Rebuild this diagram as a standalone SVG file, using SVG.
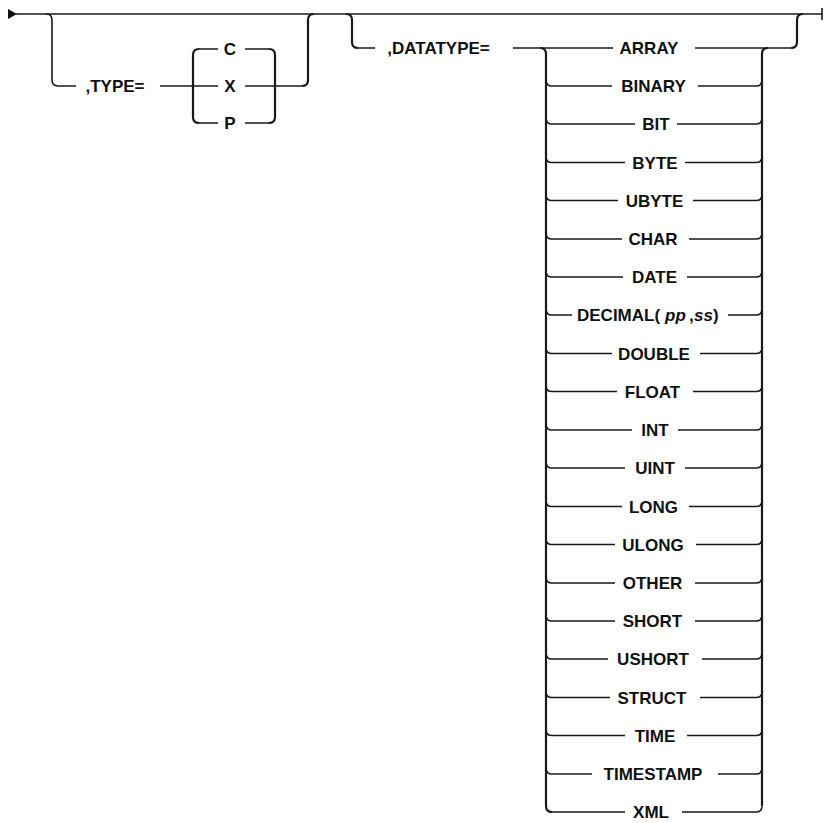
<svg xmlns="http://www.w3.org/2000/svg" width="825" height="823" viewBox="0 0 825 823">
<style>
.ln{fill:none;stroke:#1a1a1a;stroke-width:1.6;stroke-linecap:butt}
.br{fill:none;stroke:#1a1a1a;stroke-width:2.2}
text{font-family:"Liberation Sans",Arial,sans-serif;font-size:17px;font-weight:bold;fill:#111;text-anchor:middle}
.it{font-style:italic}
</style>
<rect width="825" height="823" fill="#fff"/>
<g id="connectors">
<polygon points="8,9 17,14 8,19" fill="#111"/>
<path class="ln" d="M16 14 H822 M822 8 V20"/>
<!-- TYPE branch -->
<path class="ln" d="M46 14 Q52 14 52 20 V80 Q52 86 58 86 H76"/>
<path class="ln" d="M160 86 H218 M199 49 H218 M199 123 H218"/>
<path class="br" d="M199 49 Q193 49 193 55 V117 Q193 123 199 123"/>
<path class="ln" d="M245 49 H269 M245 123 H269 M245 86 H302"/>
<path class="br" d="M269 49 Q275 49 275 55 V117 Q275 123 269 123"/>
<path class="br" d="M302 86 Q308 86 308 80 V20 Q308 14 314 14"/>
<!-- DATATYPE branch -->
<path class="br" d="M346 14 Q352 14 352 20 V42 Q352 48 358 48"/>
<path class="ln" d="M358 48 H375 M513 48 H613"/>
<path class="br" d="M540 48 Q546 48 546 54 V806 Q546 812 552 812"/>
<path class="br" d="M762 806 V54 Q762 48 768 48"/>
<path class="ln" d="M695 48 H791"/>
<path class="br" d="M791 48 Q797 48 797 42 V20 Q797 14 803 14"/>
<path class="ln" d="
M546 80.2 Q546 86 552 86 H612 M698 86 H756 Q762 86 762 80.2
M546 118.2 Q546 124 552 124 H635 M677 124 H756 Q762 124 762 118.2
M546 156.7 Q546 162.5 552 162.5 H625 M685 162.5 H756 Q762 162.5 762 156.7
M546 194.7 Q546 200.5 552 200.5 H618 M693 200.5 H756 Q762 200.5 762 194.7
M546 233.2 Q546 239 552 239 H622 M689 239 H756 Q762 239 762 233.2
M546 271.2 Q546 277 552 277 H623 M687 277 H756 Q762 277 762 271.2
M546 309.2 Q546 315 552 315 H572 M728 315 H756 Q762 315 762 309.2
M546 347.7 Q546 353.5 552 353.5 H612 M700 353.5 H756 Q762 353.5 762 347.7
M546 385.7 Q546 391.5 552 391.5 H617 M693 391.5 H756 Q762 391.5 762 385.7
M546 424.2 Q546 430 552 430 H632 M678 430 H756 Q762 430 762 424.2
M546 462.2 Q546 468 552 468 H625 M685 468 H756 Q762 468 762 462.2
M546 500.7 Q546 506.5 552 506.5 H622 M689 506.5 H756 Q762 506.5 762 500.7
M546 538.7 Q546 544.5 552 544.5 H615 M696 544.5 H756 Q762 544.5 762 538.7
M546 577.2 Q546 583 552 583 H615 M695 583 H756 Q762 583 762 577.2
M546 615.2 Q546 621 552 621 H615 M695 621 H756 Q762 621 762 615.2
M546 653.2 Q546 659 552 659 H608 M702 659 H756 Q762 659 762 653.2
M546 691.7 Q546 697.5 552 697.5 H610 M700 697.5 H756 Q762 697.5 762 691.7
M546 729.7 Q546 735.5 552 735.5 H625 M687 735.5 H756 Q762 735.5 762 729.7
M546 768.2 Q546 774 552 774 H592 M718 774 H756 Q762 774 762 768.2
M552 812 H625 M682 812 H756 Q762 812 762 806.2"/>
</g>
<g id="type-kw"><text x="115" y="92">,TYPE=</text></g>
<g id="type-c"><text x="230" y="55">C</text></g>
<g id="type-x"><text x="230" y="92">X</text></g>
<g id="type-p"><text x="230" y="129">P</text></g>
<g id="datatype-kw"><text x="438.5" y="54">,DATATYPE=</text></g>
<g id="opt-array"><text x="649" y="54">ARRAY</text></g>
<g id="opt-binary"><text x="653.5" y="92">BINARY</text></g>
<g id="opt-bit"><text x="656" y="130">BIT</text></g>
<g id="opt-byte"><text x="655" y="168.5">BYTE</text></g>
<g id="opt-ubyte"><text x="654.5" y="206.5">UBYTE</text></g>
<g id="opt-char"><text x="653" y="245">CHAR</text></g>
<g id="opt-date"><text x="654.5" y="283">DATE</text></g>
<g id="opt-decimal"><text y="321" style="text-anchor:start"><tspan x="577">DECIMAL(</tspan><tspan x="665" class="it">pp</tspan><tspan x="689">,</tspan><tspan x="694" class="it">ss</tspan><tspan x="713">)</tspan></text></g>
<g id="opt-double"><text x="654" y="359.5">DOUBLE</text></g>
<g id="opt-float"><text x="652.5" y="397.5">FLOAT</text></g>
<g id="opt-int"><text x="655" y="436">INT</text></g>
<g id="opt-uint"><text x="655" y="474">UINT</text></g>
<g id="opt-long"><text x="653.5" y="512.5">LONG</text></g>
<g id="opt-ulong"><text x="653" y="550.5">ULONG</text></g>
<g id="opt-other"><text x="652.5" y="589">OTHER</text></g>
<g id="opt-short"><text x="652.5" y="627">SHORT</text></g>
<g id="opt-ushort"><text x="653" y="665">USHORT</text></g>
<g id="opt-struct"><text x="652" y="703.5">STRUCT</text></g>
<g id="opt-time"><text x="655" y="741.5">TIME</text></g>
<g id="opt-timestamp"><text x="653" y="780">TIMESTAMP</text></g>
<g id="opt-xml"><text x="651" y="818">XML</text></g>
</svg>
